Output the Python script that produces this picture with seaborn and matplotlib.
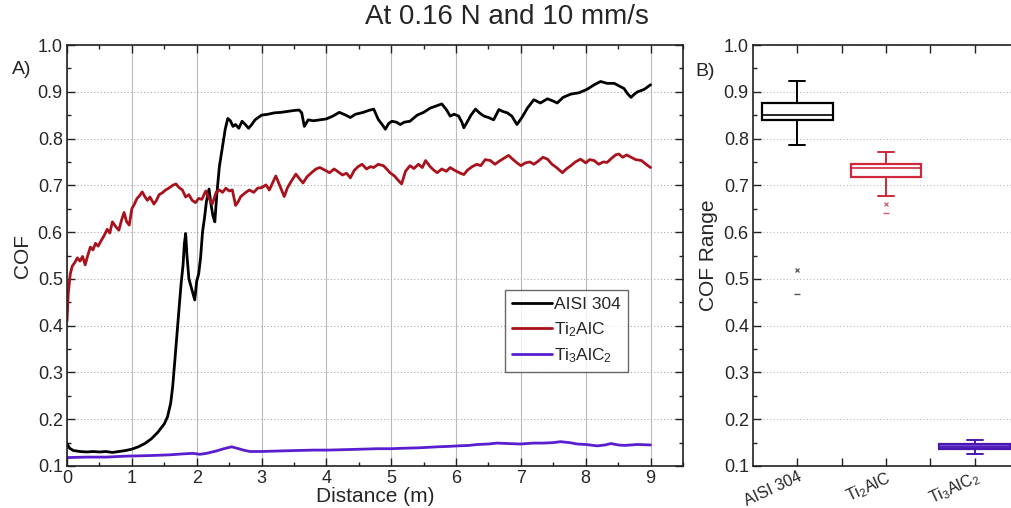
import numpy as np
import pandas as pd
import matplotlib
matplotlib.use("Agg")
import matplotlib.pyplot as plt
from matplotlib.ticker import MultipleLocator, FixedLocator
from matplotlib.lines import Line2D
import seaborn as sns

# ---------------- data ----------------
aisi_d = [0, 0.04, 0.1, 0.2, 0.3, 0.4, 0.5, 0.6, 0.7, 0.8, 0.9, 1.0, 1.1, 1.2, 1.3, 1.4, 1.5, 1.55, 1.6, 1.63,
          1.66, 1.7, 1.73, 1.76, 1.79, 1.81, 1.83, 1.85, 1.88, 1.91, 1.94, 1.97, 2.0, 2.03, 2.06, 2.09, 2.12,
          2.15, 2.19, 2.22, 2.25, 2.28, 2.31, 2.35, 2.40, 2.44, 2.48, 2.52, 2.56, 2.60, 2.65, 2.70, 2.75, 2.80,
          2.85, 2.90, 2.95, 3.0, 3.1, 3.2, 3.3, 3.4, 3.5, 3.58, 3.62, 3.66, 3.72, 3.8, 3.9, 4.0, 4.1, 4.2, 4.3,
          4.37, 4.45, 4.57, 4.65, 4.73, 4.80, 4.86, 4.91, 4.96, 5.01, 5.08, 5.14, 5.2, 5.29, 5.4, 5.5, 5.6, 5.7,
          5.78, 5.85, 5.91, 5.97, 6.04, 6.09, 6.12, 6.17, 6.23, 6.3, 6.36, 6.43, 6.5, 6.58, 6.66, 6.72, 6.79,
          6.86, 6.94, 7.02, 7.1, 7.2, 7.3, 7.41, 7.5, 7.56, 7.65, 7.77, 7.9, 8.03, 8.13, 8.23, 8.33, 8.44, 8.52,
          8.59, 8.65, 8.70, 8.75, 8.80, 8.9, 9.0]
aisi_cof = [0.148, 0.138, 0.133, 0.131, 0.130, 0.131, 0.130, 0.131, 0.129, 0.131, 0.133, 0.136, 0.141, 0.148,
            0.158, 0.172, 0.19, 0.205, 0.235, 0.27, 0.32, 0.39, 0.44, 0.49, 0.53, 0.575, 0.597, 0.55, 0.50,
            0.485, 0.47, 0.455, 0.495, 0.51, 0.545, 0.60, 0.63, 0.665, 0.692, 0.66, 0.635, 0.622, 0.68, 0.74,
            0.785, 0.82, 0.843, 0.838, 0.826, 0.83, 0.822, 0.837, 0.83, 0.822, 0.83, 0.84, 0.845, 0.85, 0.852,
            0.855, 0.856, 0.858, 0.86, 0.861, 0.855, 0.826, 0.84, 0.838, 0.84, 0.842, 0.848, 0.856, 0.85, 0.845,
            0.852, 0.856, 0.86, 0.863, 0.841, 0.83, 0.82, 0.832, 0.837, 0.835, 0.83, 0.835, 0.837, 0.85, 0.856,
            0.865, 0.87, 0.874, 0.862, 0.848, 0.852, 0.848, 0.835, 0.823, 0.835, 0.85, 0.863, 0.855, 0.848,
            0.845, 0.84, 0.862, 0.858, 0.855, 0.848, 0.83, 0.846, 0.865, 0.883, 0.876, 0.885, 0.88, 0.876,
            0.888, 0.895, 0.898, 0.906, 0.915, 0.922, 0.918, 0.918, 0.912, 0.907, 0.895, 0.888, 0.895, 0.90,
            0.905, 0.915]

ti2_d = [0, 0.02, 0.05, 0.08, 0.12, 0.16, 0.2, 0.24, 0.28, 0.32, 0.36, 0.40, 0.44, 0.48, 0.52, 0.57, 0.62,
         0.66, 0.70, 0.75, 0.80, 0.84, 0.88, 0.92, 0.96, 1.0, 1.04, 1.08, 1.12, 1.16, 1.2, 1.24, 1.28, 1.34,
         1.38, 1.42, 1.47, 1.52, 1.57, 1.63, 1.68, 1.73, 1.78, 1.83, 1.88, 1.93, 1.98, 2.03, 2.08, 2.14, 2.19,
         2.24, 2.3, 2.35, 2.4, 2.45, 2.5, 2.55, 2.6, 2.64, 2.68, 2.74, 2.81, 2.88, 2.94, 3.0, 3.07, 3.12, 3.17,
         3.22, 3.28, 3.35, 3.4, 3.46, 3.53, 3.58, 3.64, 3.7, 3.77, 3.84, 3.9, 3.97, 4.05, 4.12, 4.18, 4.25,
         4.31, 4.37, 4.43, 4.49, 4.55, 4.62, 4.68, 4.73, 4.8, 4.88, 4.93, 4.98, 5.05, 5.1, 5.16, 5.22, 5.29,
         5.35, 5.42, 5.48, 5.53, 5.6, 5.66, 5.71, 5.78, 5.85, 5.91, 5.98, 6.05, 6.12, 6.18, 6.25, 6.32, 6.38,
         6.45, 6.53, 6.6, 6.67, 6.74, 6.81, 6.88, 6.94, 7.0, 7.07, 7.14, 7.2, 7.27, 7.34, 7.41, 7.48, 7.55,
         7.64, 7.7, 7.77, 7.84, 7.92, 8.0, 8.06, 8.13, 8.2, 8.27, 8.33, 8.4, 8.46, 8.51, 8.57, 8.63, 8.7, 8.77,
         8.86, 8.93, 9.0]
ti2_cof = [0.41, 0.47, 0.51, 0.527, 0.535, 0.545, 0.538, 0.548, 0.53, 0.55, 0.568, 0.562, 0.576, 0.57, 0.58,
           0.592, 0.606, 0.598, 0.622, 0.612, 0.604, 0.625, 0.642, 0.622, 0.615, 0.65, 0.66, 0.672, 0.678,
           0.686, 0.676, 0.668, 0.675, 0.66, 0.668, 0.68, 0.684, 0.69, 0.694, 0.70, 0.703, 0.695, 0.69, 0.675,
           0.68, 0.668, 0.663, 0.672, 0.67, 0.688, 0.672, 0.66, 0.685, 0.69, 0.685, 0.694, 0.688, 0.69, 0.657,
           0.665, 0.676, 0.683, 0.69, 0.685, 0.694, 0.695, 0.701, 0.69, 0.705, 0.72, 0.70, 0.676, 0.695, 0.709,
           0.724, 0.715, 0.705, 0.718, 0.727, 0.735, 0.738, 0.733, 0.727, 0.735, 0.729, 0.722, 0.726, 0.716,
           0.732, 0.74, 0.745, 0.735, 0.74, 0.738, 0.745, 0.742, 0.735, 0.727, 0.72, 0.712, 0.703, 0.73, 0.742,
           0.736, 0.745, 0.738, 0.753, 0.74, 0.732, 0.727, 0.735, 0.73, 0.738, 0.732, 0.727, 0.723, 0.733,
           0.74, 0.745, 0.742, 0.755, 0.753, 0.745, 0.752, 0.758, 0.764, 0.755, 0.748, 0.742, 0.748, 0.75,
           0.745, 0.752, 0.76, 0.756, 0.745, 0.738, 0.727, 0.735, 0.742, 0.75, 0.756, 0.748, 0.755, 0.753,
           0.745, 0.75, 0.749, 0.758, 0.765, 0.767, 0.76, 0.765, 0.76, 0.755, 0.753, 0.745, 0.738]

ti3_d = [0, 0.3, 0.6, 0.9, 1.2, 1.42, 1.6, 1.8, 1.94, 2.05, 2.15, 2.3, 2.42, 2.54, 2.62, 2.72, 2.82, 3.0, 3.24,
         3.5, 3.8, 4.02, 4.3, 4.55, 4.79, 5.0, 5.2, 5.45, 5.71, 5.9, 6.02, 6.2, 6.33, 6.5, 6.63, 6.8, 6.99, 7.2,
         7.35, 7.5, 7.61, 7.75, 7.87, 8.0, 8.18, 8.3, 8.39, 8.5, 8.6, 8.8, 9.0]
ti3_cof = [0.118, 0.119, 0.119, 0.121, 0.122, 0.123, 0.124, 0.126, 0.127, 0.125, 0.127, 0.132, 0.137, 0.141,
           0.138, 0.134, 0.131, 0.131, 0.132, 0.133, 0.134, 0.134, 0.135, 0.136, 0.137, 0.137, 0.138, 0.139,
           0.141, 0.142, 0.143, 0.144, 0.146, 0.147, 0.149, 0.148, 0.147, 0.149, 0.149, 0.150, 0.152, 0.150,
           0.147, 0.146, 0.143, 0.145, 0.148, 0.145, 0.144, 0.146, 0.145]

series_labels = ["AISI 304", "Ti$_2$AlC", "Ti$_3$AlC$_2$"]
series_colors = ["#000000", "#a8121c", "#5a1ecf"]
box_edge_colors = ["#000000", "#d0283a", "#4a18b0"]
box_face_colors = ["#ffffff", "#ffffff", "#7b4fe0"]
outlier_colors = ["#555555", "#d06070", "#4a18b0"]

# box statistics (COF range)
box_whislo = [0.787, 0.678, 0.125]
box_q1 = [0.840, 0.718, 0.136]
box_med = [0.850, 0.737, 0.141]
box_q3 = [0.875, 0.745, 0.148]
box_whishi = [0.922, 0.771, 0.155]
box_mean = [0.845, 0.730, 0.141]
out_x = [0.52, 0.66, None]       # 1%/99% markers
out_dash = [0.467, 0.64, None]   # min/max markers

# ---------------- style ----------------
sns.set_style("ticks")
plt.rcParams['font.family'] = ['Liberation Sans', 'DejaVu Sans']
plt.rcParams['mathtext.fontset'] = 'custom'
plt.rcParams['mathtext.rm'] = 'Liberation Sans'
plt.rcParams['mathtext.it'] = 'Liberation Sans'

W, H = 1012, 508
TOP, BOT = 45, 466
fig = plt.figure(figsize=(W / 100, H / 100), dpi=100)

ax1 = fig.add_axes([67 / W, 1 - BOT / H, (683 - 67) / W, (BOT - TOP) / H])
ax2 = fig.add_axes([753 / W, 1 - BOT / H, (1019 - 753) / W, (BOT - TOP) / H])

frames = []
for lab, d, c in zip(series_labels, [aisi_d, ti2_d, ti3_d], [aisi_cof, ti2_cof, ti3_cof]):
    frames.append(pd.DataFrame({"Distance": d, "COF": c, "Material": lab}))
df = pd.concat(frames, ignore_index=True)

sns.lineplot(data=df, x="Distance", y="COF", hue="Material", palette=dict(zip(series_labels, series_colors)),
             ax=ax1, linewidth=2.0, sort=False, estimator=None, legend=False)

handles = [Line2D([], [], color=c, lw=2.0) for c in series_colors]
leg = ax1.legend(handles, series_labels, loc="upper left", bbox_to_anchor=(0.711, 0.418),
                 fontsize=12.5, frameon=True, fancybox=False, handlelength=2.3, handletextpad=0.15,
                 labelspacing=0.45, borderpad=0.4, borderaxespad=0)
leg.get_frame().set_edgecolor("#444444")
leg.get_frame().set_linewidth(1.0)

ax1.set_xlim(0, 9.5)
ax1.set_ylim(0.1, 1.0)
ax1.xaxis.set_major_locator(MultipleLocator(1))
ax1.xaxis.set_minor_locator(MultipleLocator(0.5))
ax1.yaxis.set_major_locator(MultipleLocator(0.1))
ax1.yaxis.set_minor_locator(MultipleLocator(0.05))
ax1.set_xticks(range(0, 10))
ax1.set_xlabel("Distance (m)", fontsize=15, labelpad=0)
ax1.set_ylabel("COF", fontsize=15, labelpad=4)
ax1.grid(axis="x", which="major", color="#bbbbbb", lw=0.8, ls="-")
ax1.grid(axis="y", which="major", color="#aaaaaa", lw=0.8, ls=(0, (1, 2)))
ax1.set_axisbelow(True)

for ax in (ax1, ax2):
    ax.tick_params(which="both", direction="in", top=True, right=True, labelsize=13, width=1.0, color="#222222")
    ax.tick_params(which="major", length=6, pad=3)
    ax.tick_params(which="minor", length=3)
    for s in ax.spines.values():
        s.set_linewidth(1.2)
        s.set_color("#222222")
    ax.yaxis.set_major_formatter(matplotlib.ticker.FormatStrFormatter("%.1f"))

# ---------------- box plot ----------------
positions = [0, 1, 2]
for i in range(3):
    st = dict(med=box_med[i], q1=box_q1[i], q3=box_q3[i], whislo=box_whislo[i],
              whishi=box_whishi[i], mean=box_mean[i], fliers=[], label=series_labels[i])
    ax2.bxp([st], positions=[positions[i]], widths=0.8, patch_artist=True, showmeans=False,
            showfliers=False, manage_ticks=False,
            boxprops=dict(facecolor=box_face_colors[i], edgecolor=box_edge_colors[i], linewidth=1.6),
            medianprops=dict(color=box_edge_colors[i], linewidth=1.2),
            whiskerprops=dict(color=box_edge_colors[i], linewidth=1.4),
            capprops=dict(color=box_edge_colors[i], linewidth=1.4), capwidths=0.18)
    if out_x[i] is not None:
        ax2.plot([positions[i]], [out_x[i]], marker="x", ms=3.5, color=outlier_colors[i], mew=0.9, ls="none")
        ax2.plot([positions[i]], [out_dash[i]], marker="_", ms=4, color=outlier_colors[i], mew=1.0, ls="none")

ax2.set_xlim(-0.5, 2.5)
ax2.set_ylim(0.1, 1.0)
ax2.yaxis.set_major_locator(MultipleLocator(0.1))
ax2.yaxis.set_minor_locator(MultipleLocator(0.05))
ax2.xaxis.set_major_locator(FixedLocator(positions))
ax2.xaxis.set_minor_locator(FixedLocator([0.5, 1.5]))
ax2.set_xticklabels(series_labels, rotation=25, ha="right", rotation_mode="anchor", fontsize=11.5)
ax2.tick_params(axis="x", which="major", pad=2)
ax2.tick_params(axis="x", which="minor", length=6)
ax2.set_ylabel("COF Range", fontsize=15, labelpad=4)
ax2.set_xlabel("")
ax2.grid(axis="y", which="major", color="#bbbbbb", lw=0.8, ls=(0, (1, 2)))
ax2.set_axisbelow(True)

fig.text(12 / W, 1 - 70 / H, "A)", fontsize=14, va="center", ha="left")
fig.text(695 / W, 1 - 72 / H, "B)", fontsize=14, va="center", ha="left")
fig.text(507 / W, 1 - 17 / H, "At 0.16 N and 10 mm/s", fontsize=20, va="center", ha="center")

fig.savefig("out.png", dpi=100)
